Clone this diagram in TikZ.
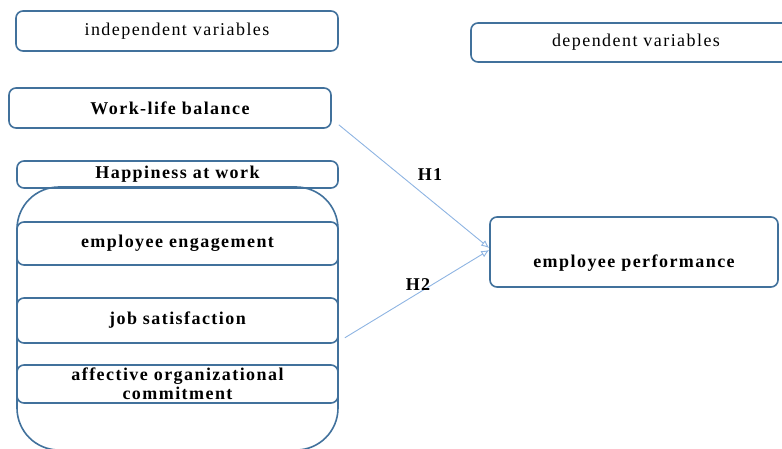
\documentclass[tikz,border=0pt]{standalone}
\usepackage{fontspec}
\setmainfont[LetterSpace=8]{Liberation Serif}
\usetikzlibrary{arrows.meta}
\definecolor{boxline}{HTML}{41719C}
\definecolor{linkline}{HTML}{8EB4E2}

\begin{document}
\begin{tikzpicture}[x=1pt, y=-1pt,
  varbox/.style={draw=boxline, line width=1.6pt, rounded corners=7pt, fill=white,
    minimum height=#1, inner sep=0pt, font=\fontsize{18}{19}\selectfont},
  varbox/.default=40pt,
  itembox/.style={varbox=#1, minimum width=321pt, font=\fontsize{18}{19}\selectfont\bfseries},
  link/.style={draw=linkline, line width=0.9pt, -{Latex[length=8pt, width=7pt, open]}},
  hyp/.style={font=\fontsize{18}{19}\selectfont\bfseries}]
\useasboundingbox (0,0) rectangle (782,449);
% headers
\node[varbox, minimum width=322pt] (indep) at (177,31) {independent variables};
\node[varbox=39pt, minimum width=330pt] (dep) at (636,42.5) {dependent variables};
% independent side
\node[itembox=40pt, minimum width=322pt] (wlb) at (170,108) {Work-life balance};
\node[itembox=27pt] (happy) at (177.5,174.5) {Happiness at work};
\node[draw=boxline, line width=1.6pt, rounded corners=42pt,
  minimum width=321pt, minimum height=263pt] (hbig) at (177.5,318.5) {};
\node[itembox=43pt] (engage) at (177.5,243.5) {employee engagement};
\node[itembox=45pt] (jobsat) at (177.5,320.5) {job satisfaction};
\node[itembox=38pt, align=center] (affect) at (177.5,384) {affective organizational\\commitment};
% dependent side
\node[itembox=70pt, minimum width=288pt, text height=34pt] (perf) at (634,252) {employee performance};
% hypotheses
\draw[link] ([xshift=7pt, yshift=4pt]wlb.south east) -- ([yshift=4pt]perf.west);
\draw[link] ([xshift=6pt, yshift=6pt]jobsat.south east) -- ([yshift=2pt]perf.west);
\node[hyp] (h1) at (430,175) {H1};
\node[hyp] (h2) at (418,285) {H2};
\end{tikzpicture}
\end{document}
